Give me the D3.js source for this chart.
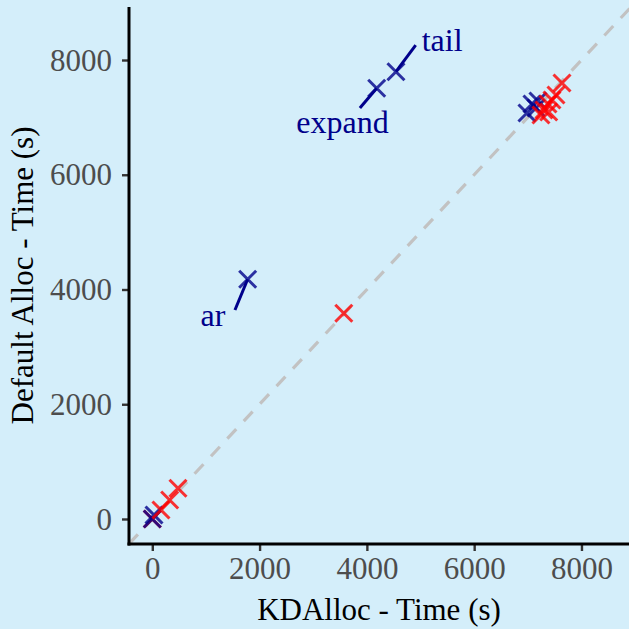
<!DOCTYPE html>
<html>
<head>
<meta charset="utf-8">
<script src="https://cdn.jsdelivr.net/npm/d3@7"></script>
<style>
  body { margin: 0; background: #d4eefa; }
  svg { display: block; }
  text { font-family: "Liberation Serif", "DejaVu Serif", serif; }
</style>
</head>
<body>
<svg id="chart"></svg>
<script>
// run time of each benchmark, seconds (x: KDAlloc, y: default allocator)
const kdTime      = [0, 0, 32, 162, 324, 479, 3570, 6984, 7077, 7152, 7189, 7245, 7301, 7376, 7450, 7525, 7390, 7637, 1778, 4183, 4542];
const defaultTime = [0, 0, 70, 157, 331, 535, 3585, 7076, 7233, 7163, 7285, 7041, 7128, 7233, 7303, 7390, 7093, 7599, 4178, 7507, 7796];
const kdFaster    = [false, true, true, false, false, false, false, true, true, true, true, false, false, false, false, false, false, false, true, true, true];

// labelled outliers: label anchor and segment end, in data units
const labelText   = ['ar', 'expand', 'tail'];
const labelIndex  = [18, 19, 20];
const labelAnchor = ['middle', 'middle', 'start'];
const labelX      = [1131, 3545, 5022];
const labelY      = [3364, 6728, 8157];
const segEndX     = [1541, 3870, 4910];
const segEndY     = [3643, 7163, 8261];

const xTicks = [0, 2000, 4000, 6000, 8000];
const yTicks = [0, 2000, 4000, 6000, 8000];

const config = {
    width: 629,
    height: 629,
    margin: { top: 7, right: 0, bottom: 85, left: 129 }
};
const blue = '#00008b';
const red = '#ff0000';

const innerW = config.width - config.margin.left - config.margin.right;
const innerH = config.height - config.margin.top - config.margin.bottom;

const svg = d3.select('#chart')
    .attr('width', config.width)
    .attr('height', config.height);

svg.append('rect')
    .attr('width', config.width)
    .attr('height', config.height)
    .attr('fill', '#d4eefa');

const chart = svg.append('g')
    .attr('transform', `translate(${config.margin.left}, ${config.margin.top})`);

const xScale = d3.scaleLinear().domain([-434, 8886]).range([0, innerW]);
const yScale = d3.scaleLinear().domain([-436, 8924]).range([innerH, 0]);

// y = x reference line
const lo = -434, hi = 8924;
chart.append('line')
    .attr('x1', xScale(lo)).attr('y1', yScale(lo))
    .attr('x2', xScale(hi)).attr('y2', yScale(hi))
    .attr('stroke', '#c2c2c2')
    .attr('stroke-width', 3.2)
    .attr('stroke-dasharray', '13,11');

// axes
const xAxisG = chart.append('g')
    .attr('transform', `translate(0, ${innerH})`)
    .call(d3.axisBottom(xScale).tickValues(xTicks).tickSize(7).tickPadding(6).tickFormat(d3.format('d')));
const yAxisG = chart.append('g')
    .call(d3.axisLeft(yScale).tickValues(yTicks).tickSize(7).tickPadding(10).tickFormat(d3.format('d')));

[xAxisG, yAxisG].forEach(g => {
    g.select('.domain').remove();
    g.selectAll('.tick line').attr('stroke', '#333333').attr('stroke-width', 2.4);
    g.selectAll('.tick text')
        .attr('fill', '#4d4d4d')
        .style('font-size', '31px')
        .style('font-family', '"Liberation Serif", serif');
});
xAxisG.selectAll('.tick text').attr('dy', '0.71em');
yAxisG.selectAll('.tick text').attr('dy', '0.33em');

chart.append('line')
    .attr('x1', 0).attr('x2', 0)
    .attr('y1', 0).attr('y2', innerH + 1.5)
    .attr('stroke', 'black').attr('stroke-width', 3);
chart.append('line')
    .attr('x1', -1.5).attr('x2', innerW)
    .attr('y1', innerH).attr('y2', innerH)
    .attr('stroke', 'black').attr('stroke-width', 3);

// crosses
const s = 8.5;
const crossPath = (x, y) => `M${x - s},${y - s}L${x + s},${y + s}M${x - s},${y + s}L${x + s},${y - s}`;

chart.selectAll('.marker')
    .data(kdTime.map((d, i) => ({ x: d, y: defaultTime[i], faster: kdFaster[i] })))
    .enter().append('path')
    .attr('class', 'marker')
    .attr('d', d => crossPath(xScale(d.x), yScale(d.y)))
    .attr('fill', 'none')
    .attr('stroke', d => d.faster ? blue : red)
    .attr('stroke-opacity', 0.8)
    .attr('stroke-width', 3);

// labels
const labels = labelText.map((t, i) => ({
    text: t,
    px: kdTime[labelIndex[i]], py: defaultTime[labelIndex[i]],
    lx: labelX[i], ly: labelY[i],
    sx: segEndX[i], sy: segEndY[i],
    anchor: labelAnchor[i]
}));

chart.selectAll('.seg')
    .data(labels)
    .enter().append('line')
    .attr('class', 'seg')
    .attr('x1', d => xScale(d.sx)).attr('y1', d => yScale(d.sy))
    .attr('x2', d => xScale(d.px)).attr('y2', d => yScale(d.py))
    .attr('stroke', blue)
    .attr('stroke-width', 3);

chart.selectAll('.lab')
    .data(labels)
    .enter().append('text')
    .attr('class', 'lab')
    .attr('x', d => xScale(d.lx))
    .attr('y', d => yScale(d.ly))
    .attr('text-anchor', d => d.anchor)
    .attr('fill', blue)
    .style('font-size', '32px')
    .text(d => d.text);

// axis titles
svg.append('text')
    .attr('x', config.margin.left + innerW / 2)
    .attr('y', 620)
    .attr('text-anchor', 'middle')
    .style('font-size', '31px')
    .text('KDAlloc - Time (s)');

svg.append('text')
    .attr('transform', `translate(33, ${config.margin.top + innerH / 2}) rotate(-90)`)
    .attr('text-anchor', 'middle')
    .style('font-size', '31px')
    .text('Default Alloc - Time (s)');
</script>
</body>
</html>
